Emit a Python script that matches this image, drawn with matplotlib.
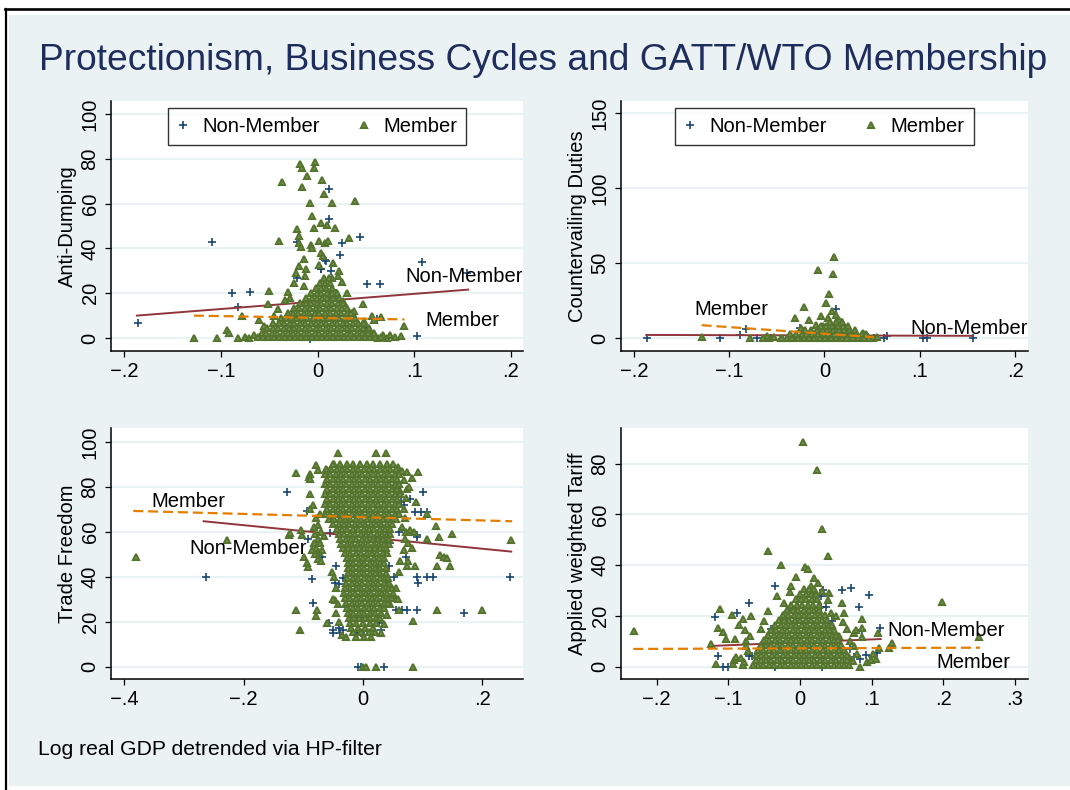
import matplotlib
matplotlib.use("Agg")
import numpy as np
import matplotlib.pyplot as plt
from matplotlib.lines import Line2D
from matplotlib.patches import Rectangle

plt.rcParams['font.family'] = ['Liberation Sans', 'DejaVu Sans']

NAVY = '#1a476f'
MAROON = '#90353b'
GREEN = '#55752f'
GREEN_FILL = '#779353'
ORANGE = '#e37e00'
BG = '#eaf2f3'

# ---------------- Anti-Dumping ----------------
ad_non_member = [
    (-0.186, 6.7), (-0.109, 43.0), (-0.089, 20.0), (-0.070, 20.7), (-0.082, 13.7),
    (-0.0215, 26.9), (-0.021, 42.8), (0.0123, 66.3), (0.0116, 53.3), (0.008, 34.8),
    (0.004, 30.6), (0.0137, 29.9), (0.023, 36.9), (0.0256, 42.2), (0.044, 44.9),
    (0.0515, 23.9), (0.065, 23.9), (0.108, 33.9), (0.103, 0.7), (0.155, 29.1),
    (0.050, 4.6), (0.062, 8.5), (0.013, 20.0), (0.0157, 18.0), (-0.0075, -0.5),
    (0.016, 21.5), (0.0035, 30.8), (0.009, 34.4), (-0.026, 5.0),
]
ad_member_extra = [
    (-0.128, 0.0), (-0.104, 0.0), (-0.0935, 3.4), (-0.092, 2.2), (-0.082, 0.0), (-0.0706, 0.0),
    (-0.078, 9.7), (-0.061, 8.2), (-0.0505, 21.0), (-0.051, 15.2), (-0.041, 13.1), (-0.0396, 43.3),
    (-0.0365, 69.7), (-0.0184, 77.6), (-0.0157, 75.7), (-0.016, 67.5), (-0.011, 72.4), (-0.0027, 78.7),
    (-0.0034, 75.7), (0.0048, 70.6), (0.007, 64.5), (0.0147, 60.4), (-0.0075, 60.4), (-0.006, 54.5),
    (-0.004, 49.3), (0.0034, 51.2), (0.0096, 50.4), (0.0177, 49.3), (-0.0215, 48.5), (-0.0195, 45.5),
    (-0.019, 42.5), (-0.0174, 40.6), (-0.0068, 41.5), (-0.006, 40.3), (0.0014, 43.3), (0.0075, 42.5),
    (0.011, 43.1), (0.039, 61.2), (0.033, 44.5), (-0.014, 35.1), (-0.0116, 30.6), (0.0038, 38.0),
    (0.006, 36.6), (0.002, 32.8), (0.0164, 33.6), (0.0218, 30.1), (0.015, 26.9), (0.0208, 27.6),
    (0.025, 25.0), (-0.0195, 32.0), (-0.022, 29.0), (-0.013, 27.5), (-0.024, 24.5), (-0.014, 23.0),
    (0.0468, 15.2), (0.056, 10.0), (0.058, 8.2), (0.0655, 9.3), (0.038, 11.9), (0.072, 0.0),
    (0.068, 1.3), (0.063, 0.0), (0.0863, 1.0), (0.0894, 5.2), (-0.031, 20.5), (-0.028, 18.0),
    (-0.034, 17.0), (-0.045, 10.0), (-0.055, 5.5), (-0.066, 1.5), (0.048, 7.5), (0.052, 3.5),
    (0.075, 1.5), (0.080, 0.3), (-0.075, 0.3), (0.030, 20.0), (0.026, 16.5),
]
ad_member_rows = [
    (0.3, [-0.062, -0.056, -0.051, -0.045, -0.040, -0.034, -0.028, -0.023, -0.017, -0.012, -0.006, -0.001,
           0.005, 0.010, 0.016, 0.021, 0.027, 0.032, 0.038, 0.043, 0.049, 0.054, 0.060, 0.066]),
    (2.4, [-0.058, -0.053, -0.047, -0.042, -0.036, -0.031, -0.025, -0.020, -0.014, -0.009, -0.003, 0.002,
           0.008, 0.013, 0.019, 0.024, 0.030, 0.035, 0.041, 0.046, 0.052, 0.058]),
    (4.6, [-0.052, -0.046, -0.041, -0.035, -0.030, -0.024, -0.019, -0.013, -0.008, -0.002, 0.003, 0.009,
           0.014, 0.020, 0.025, 0.031, 0.036, 0.042, 0.047, 0.053]),
    (6.8, [-0.046, -0.040, -0.035, -0.029, -0.024, -0.018, -0.013, -0.007, -0.002, 0.004, 0.009, 0.015,
           0.020, 0.026, 0.031, 0.037, 0.042, 0.048]),
    (9.0, [-0.038, -0.033, -0.027, -0.022, -0.016, -0.011, -0.005, 0.000, 0.006, 0.011, 0.017, 0.022,
           0.028, 0.033, 0.039]),
    (11.2, [-0.031, -0.025, -0.020, -0.014, -0.009, -0.003, 0.002, 0.008, 0.013, 0.019, 0.024, 0.030, 0.035]),
    (13.4, [-0.024, -0.019, -0.013, -0.008, -0.002, 0.003, 0.009, 0.014, 0.020, 0.025, 0.030]),
    (15.6, [-0.018, -0.012, -0.007, -0.001, 0.004, 0.010, 0.015, 0.021, 0.026]),
    (17.8, [-0.012, -0.006, -0.001, 0.005, 0.010, 0.016, 0.022]),
    (20.0, [-0.007, -0.001, 0.004, 0.010, 0.015, 0.020]),
    (22.2, [-0.002, 0.004, 0.009, 0.015]),
    (24.4, [0.003, 0.008, 0.013]),
    (26.6, [0.007, 0.012]),
]
ad_fit_non_member = ([-0.187, 0.156], [10.0, 21.6])
ad_fit_member = ([-0.128, 0.090], [10.0, 8.3])
ad_labels = [("Non-Member", 0.0905, 27.3), ("Member", 0.112, 7.8)]

# ---------------- Countervailing Duties ----------------
cvd_non_member = [
    (-0.1868, 0.0), (-0.1098, 0.0), (-0.0889, 2.2), (-0.0826, 6.0), (-0.0711, 0.0), (-0.0258, 6.5),
    (-0.021, 0.0), (0.0118, 19.4), (0.0105, 7.8), (0.027, 3.8), (0.046, 1.1), (0.0516, 0.0),
    (0.062, 0.0), (0.0655, 1.6), (0.1038, 0.0), (0.1073, 0.0), (0.156, 0.0), (-0.0564, 0.0),
    (-0.033, 0.0), (0.0045, 0.0), (0.013, 0.0),
]
cvd_member_extra = [
    (-0.1286, 1.1), (-0.078, 0.0), (-0.058, 0.0), (-0.053, 0.5), (-0.046, 0.0), (-0.0314, 13.8),
    (-0.0213, 21.0), (-0.016, 12.3), (-0.0073, 45.3), (0.0105, 54.2), (0.0094, 43.1), (0.0052, 29.2),
    (0.0017, 23.2), (-0.0035, 15.0), (0.0038, 13.2), (0.0077, 17.9), (0.0125, 15.4), (0.0153, 12.3),
    (0.0181, 10.5), (-0.009, 9.0), (-0.002, 8.0), (-0.025, 7.0), (0.040, 3.3), (0.0505, 0.0),
    (0.055, 0.8), (-0.060, 1.5), (-0.065, 0.0),
]
cvd_member_rows = [
    (0.3, [-0.045, -0.039, -0.034, -0.028, -0.022, -0.016, -0.011, -0.005, 0.001, 0.007, 0.012, 0.018,
           0.024, 0.030, 0.035, 0.041, 0.047]),
    (3.0, [-0.036, -0.030, -0.024, -0.019, -0.013, -0.007, -0.001, 0.004, 0.010, 0.016, 0.022, 0.027,
           0.033, 0.039, 0.044]),
    (5.7, [-0.020, -0.014, -0.008, -0.002, 0.003, 0.009, 0.015, 0.021, 0.026, 0.032]),
    (8.4, [-0.004, 0.002, 0.008, 0.014, 0.019, 0.025]),
    (11.0, [0.006, 0.012, 0.018]),
]
cvd_fit_non_member = ([-0.187, 0.156], [2.2, 1.6])
cvd_fit_member = ([-0.129, 0.052], [8.7, 0.7])
cvd_labels = [("Member", -0.1366, 19.0), ("Non-Member", 0.0906, 6.7)]

# ---------------- Trade Freedom ----------------
tf_non_member = [
    (-0.128, 77.9), (-0.094, 69.4), (-0.092, 56.8), (-0.263, 39.8), (-0.085, 39.0), (-0.083, 28.2),
    (0.246, 39.8), (0.1685, 24.0), (0.101, 77.6), (0.079, 74.6), (0.088, 69.0), (0.0967, 69.0),
    (0.1077, 69.0), (0.091, 58.6), (0.090, 57.6), (0.091, 39.8), (0.093, 37.0), (0.1077, 39.8),
    (0.1177, 39.8), (0.055, 25.0), (0.066, 25.0), (0.073, 25.0), (0.090, 25.0), (0.052, 78.2),
    (0.058, 77.2), (0.0635, 73.4), (0.069, 72.0), (0.072, 49.0), (0.052, 40.0), (0.041, 37.0),
    (0.044, 44.8), (-0.047, 37.0), (-0.040, 36.8), (-0.034, 39.3), (-0.057, 19.3), (-0.050, 16.3),
    (-0.041, 17.0), (-0.034, 16.3), (-0.050, 14.8), (-0.039, 14.8), (-0.011, 14.8), (-0.003, 14.8),
    (0.0276, 19.3), (0.030, 16.3), (-0.009, 0.0), (-0.003, 0.0), (0.035, 0.0), (-0.0055, 22.3),
    (0.003, 22.3), (-0.029, 26.7), (-0.058, 75.7), (-0.061, 71.2), (-0.0525, 65.3), (-0.055, 59.3),
    (-0.069, 49.0), (0.025, 43.0), (0.030, 41.0), (0.045, 55.0), (0.060, 60.0), (-0.045, 45.0),
    (-0.020, 21.0),
]
tf_member_extra = [
    (-0.381, 49.0), (-0.2276, 56.4), (-0.113, 86.0), (-0.0895, 85.8), (-0.091, 84.6), (-0.0895, 83.4),
    (-0.0785, 89.8), (-0.0746, 87.5), (-0.061, 87.5), (-0.048, 90.0), (-0.0414, 95.2), (0.022, 95.2),
    (0.0387, 95.2), (-0.088, 76.9), (-0.124, 58.6), (-0.1215, 59.3), (-0.104, 60.8), (-0.103, 58.6),
    (-0.098, 49.0), (-0.093, 46.0), (-0.092, 44.5), (-0.113, 25.0), (-0.105, 16.3), (-0.077, 25.0),
    (-0.079, 22.5), (-0.060, 19.3), (-0.047, 29.7), (0.0746, 86.4), (0.093, 86.4), (0.083, 83.8),
    (0.0746, 79.0), (0.0895, 73.4), (0.1077, 68.0), (0.123, 62.6), (0.150, 59.0), (0.127, 57.9),
    (0.1077, 56.7), (0.129, 49.7), (0.135, 49.0), (0.140, 48.5), (0.124, 44.8), (0.146, 44.8),
    (0.0746, 44.8), (0.088, 44.8), (0.124, 25.0), (0.200, 25.0), (0.2475, 56.4), (0.0845, 20.3),
    (0.000, 0.0), (0.0055, 0.0), (0.022, 0.0), (0.0845, 0.0),
    (-0.080, 59.0), (-0.076, 57.0), (-0.082, 55.0), (-0.078, 53.0), (-0.074, 51.0), (-0.080, 50.0),
    (-0.076, 48.0), (-0.070, 47.0), (-0.072, 55.0), (-0.068, 52.0), (-0.066, 58.0), (-0.070, 60.0),
    (-0.085, 52.0), (-0.088, 70.0), (-0.083, 72.0), (-0.078, 66.0), (-0.075, 63.0), (-0.072, 68.0),
    (-0.082, 62.0), (0.066, 62.0), (0.072, 60.0), (0.078, 61.0), (0.085, 60.0), (0.070, 57.0),
    (0.076, 55.0), (0.082, 53.0), (0.068, 52.0), (0.075, 47.0), (0.062, 47.0), (0.060, 42.0),
    (0.055, 35.0), (0.050, 32.0), (0.058, 30.0), (0.045, 28.0), (0.060, 25.0), (0.040, 23.0),
    (0.035, 19.0), (0.030, 15.0), (0.068, 70.0), (0.072, 75.0), (0.077, 80.0), (0.068, 83.0),
    (0.062, 78.0), (0.070, 66.0), (0.065, 87.0), (0.058, 89.0), (-0.045, 35.0), (-0.050, 30.0),
    (-0.042, 28.0), (-0.045, 24.0), (-0.040, 20.0), (-0.035, 14.0), (-0.028, 13.0), (-0.052, 42.0),
    (-0.048, 40.0),
]
tf_member_rows = [
    (90.0, [-0.050, -0.039, -0.027, -0.016, -0.005, 0.006, 0.017, 0.029, 0.040, 0.050]),
    (87.8, [-0.062, -0.053, -0.044, -0.035, -0.026, -0.017, -0.008, 0.001, 0.010, 0.019, 0.028, 0.037, 0.046, 0.056]),
    (85.6, [-0.064, -0.055, -0.046, -0.037, -0.028, -0.019, -0.010, -0.001, 0.008, 0.017, 0.026, 0.035, 0.044, 0.053, 0.060]),
    (83.4, [-0.060, -0.051, -0.042, -0.033, -0.024, -0.015, -0.006, 0.003, 0.012, 0.021, 0.030, 0.039, 0.048, 0.057]),
    (81.2, [-0.064, -0.055, -0.046, -0.037, -0.028, -0.019, -0.010, -0.001, 0.008, 0.017, 0.026, 0.035, 0.044, 0.053, 0.061]),
    (79.0, [-0.060, -0.051, -0.042, -0.033, -0.024, -0.015, -0.006, 0.003, 0.012, 0.021, 0.030, 0.039, 0.048, 0.057]),
    (76.8, [-0.064, -0.055, -0.046, -0.037, -0.028, -0.019, -0.010, -0.001, 0.008, 0.017, 0.026, 0.035, 0.044, 0.053, 0.062]),
    (74.6, [-0.060, -0.051, -0.042, -0.033, -0.024, -0.015, -0.006, 0.003, 0.012, 0.021, 0.030, 0.039, 0.048, 0.057]),
    (72.4, [-0.064, -0.055, -0.046, -0.037, -0.028, -0.019, -0.010, -0.001, 0.008, 0.017, 0.026, 0.035, 0.044, 0.053, 0.061]),
    (70.2, [-0.060, -0.051, -0.042, -0.033, -0.024, -0.015, -0.006, 0.003, 0.012, 0.021, 0.030, 0.039, 0.048, 0.057]),
    (68.0, [-0.064, -0.055, -0.046, -0.037, -0.028, -0.019, -0.010, -0.001, 0.008, 0.017, 0.026, 0.035, 0.044, 0.053, 0.060]),
    (65.8, [-0.057, -0.048, -0.039, -0.030, -0.021, -0.012, -0.003, 0.006, 0.015, 0.024, 0.033, 0.042, 0.051, 0.056]),
    (63.6, [-0.050, -0.041, -0.032, -0.023, -0.014, -0.005, 0.004, 0.013, 0.022, 0.031, 0.040, 0.049]),
    (61.4, [-0.044, -0.035, -0.026, -0.017, -0.008, 0.001, 0.010, 0.019, 0.028, 0.037, 0.046]),
    (59.2, [-0.040, -0.031, -0.022, -0.013, -0.004, 0.005, 0.014, 0.023, 0.032, 0.041, 0.046]),
    (57.0, [-0.038, -0.029, -0.020, -0.011, -0.002, 0.007, 0.016, 0.025, 0.034, 0.043]),
    (54.8, [-0.036, -0.027, -0.018, -0.009, 0.000, 0.009, 0.018, 0.027, 0.036, 0.043]),
    (52.6, [-0.034, -0.025, -0.016, -0.007, 0.002, 0.011, 0.020, 0.029, 0.038]),
    (50.4, [-0.030, -0.021, -0.012, -0.003, 0.006, 0.015, 0.024, 0.033, 0.040]),
    (48.2, [-0.027, -0.018, -0.009, 0.000, 0.009, 0.018, 0.027, 0.036]),
    (46.0, [-0.025, -0.016, -0.007, 0.002, 0.011, 0.020, 0.029, 0.036]),
    (43.8, [-0.025, -0.016, -0.007, 0.002, 0.011, 0.020, 0.029, 0.038]),
    (41.6, [-0.025, -0.016, -0.007, 0.002, 0.011, 0.020, 0.029, 0.038]),
    (39.4, [-0.026, -0.017, -0.008, 0.001, 0.010, 0.019, 0.028, 0.037, 0.042]),
    (37.2, [-0.028, -0.019, -0.010, -0.001, 0.008, 0.017, 0.026, 0.035, 0.044]),
    (35.0, [-0.030, -0.021, -0.012, -0.003, 0.006, 0.015, 0.024, 0.033, 0.042, 0.048]),
    (32.8, [-0.031, -0.022, -0.013, -0.004, 0.005, 0.014, 0.023, 0.032, 0.041, 0.050]),
    (30.6, [-0.030, -0.021, -0.012, -0.003, 0.006, 0.015, 0.024, 0.033, 0.042, 0.049]),
    (28.4, [-0.028, -0.019, -0.010, -0.001, 0.008, 0.017, 0.026, 0.035, 0.042]),
    (26.2, [-0.026, -0.017, -0.008, 0.001, 0.010, 0.019, 0.028, 0.036]),
    (24.0, [-0.025, -0.016, -0.007, 0.002, 0.011, 0.020, 0.030]),
    (21.8, [-0.024, -0.015, -0.006, 0.003, 0.012, 0.021, 0.028]),
    (19.6, [-0.022, -0.011, 0.000, 0.011, 0.022]),
    (17.4, [-0.020, -0.008, 0.004, 0.016]),
    (15.2, [-0.016, -0.004, 0.010, 0.020]),
    (13.0, [-0.012, 0.002, 0.014]),
]
tf_fit_non_member = ([-0.267, 0.2485], [64.7, 51.2])
tf_fit_member = ([-0.385, 0.250], [69.3, 64.7])
tf_labels = [("Member", -0.355, 73.4), ("Non-Member", -0.291, 52.7)]

# ---------------- Applied weighted Tariff ----------------
tar_non_member = [
    (-0.119, 19.7), (-0.115, 4.2), (-0.108, 0.0), (-0.0874, 21.3), (-0.071, 25.0), (-0.0716, 4.2),
    (-0.067, 4.2), (-0.0349, 32.0), (-0.0177, 21.7), (-0.021, 18.4), (0.0195, 28.7), (0.0288, 27.9),
    (0.0326, 30.3), (0.0288, 23.7), (0.059, 30.3), (0.0707, 30.9), (0.0963, 28.3), (0.0823, 23.4),
    (0.087, 14.5), (0.1116, 15.1), (0.101, 4.2), (0.107, 5.3), (-0.0116, 22.3), (0.036, 23.7),
    (-0.0525, 4.2), (0.075, 4.0), (0.083, 3.0), (0.092, 4.5), (-0.100, 0.0), (-0.035, 0.0),
    (0.030, 0.0), (0.060, 6.0), (0.070, 7.0), (-0.050, 8.0), (-0.040, 15.0), (0.045, 18.0),
]
tar_member_extra = [
    (-0.2316, 14.2), (0.0047, 88.6), (0.0233, 77.5), (0.031, 54.2), (0.0395, 43.7), (-0.044, 45.7),
    (-0.026, 39.9), (0.0065, 39.3), (0.011, 38.6), (-0.006, 35.3), (0.1986, 25.7), (0.250, 11.8),
    (-0.112, 22.6), (-0.115, 15.1), (-0.1247, 8.9), (-0.1167, 1.0), (-0.107, 13.8), (-0.1037, 10.8),
    (-0.0944, 20.4), (-0.0907, 10.9), (-0.085, 16.4), (-0.0795, 18.7), (-0.077, 14.5), (-0.068, 20.0),
    (-0.092, 2.6), (-0.093, 1.2), (-0.089, 4.0), (-0.080, 0.5), (-0.078, 2.0), (-0.083, 3.5),
    (-0.0316, 27.9), (-0.013, 31.8), (-0.014, 29.6), (0.015, 32.0), (0.040, 28.9), (0.039, 26.3),
    (0.0437, 21.0), (0.058, 25.3), (0.062, 21.3), (0.0595, 17.8), (0.075, 13.2), (0.0777, 14.5),
    (0.087, 18.7), (0.087, 15.1), (0.086, 11.8), (0.074, 2.4), (0.084, 0.0), (0.094, 2.0),
    (0.0986, 2.6), (0.109, 13.2), (0.110, 7.5), (0.124, 7.5), (0.128, 9.2), (0.102, 5.0),
    (0.106, 3.0), (-0.075, 10.0), (-0.070, 12.0), (-0.072, 6.0), (-0.076, 8.0), (0.070, 10.0),
    (0.075, 8.0), (0.080, 5.0), (0.065, 15.0), (0.068, 4.0), (-0.045, 22.0), (-0.050, 18.0),
    (-0.055, 15.0), (0.050, 20.0), (0.055, 12.0), (-0.022, 25.0), (0.030, 30.0), (0.025, 33.0),
    (0.020, 35.0),
]
tar_member_rows = [
    (0.5, [-0.066, -0.058, -0.051, -0.043, -0.036, -0.028, -0.021, -0.013, -0.006, 0.002, 0.009, 0.017,
           0.024, 0.032, 0.039, 0.047, 0.054, 0.062, 0.069]),
    (2.5, [-0.062, -0.055, -0.047, -0.040, -0.032, -0.025, -0.017, -0.010, -0.002, 0.005, 0.013, 0.020,
           0.028, 0.035, 0.043, 0.050, 0.058, 0.066]),
    (4.5, [-0.062, -0.054, -0.047, -0.039, -0.032, -0.024, -0.017, -0.009, -0.002, 0.006, 0.013, 0.021,
           0.028, 0.036, 0.043, 0.051, 0.058, 0.065]),
    (6.5, [-0.058, -0.051, -0.043, -0.036, -0.028, -0.021, -0.013, -0.006, 0.002, 0.009, 0.017, 0.024,
           0.032, 0.039, 0.047, 0.054, 0.061]),
    (8.5, [-0.055, -0.047, -0.040, -0.032, -0.025, -0.017, -0.010, -0.002, 0.005, 0.013, 0.020, 0.028,
           0.035, 0.043, 0.050, 0.057]),
    (10.5, [-0.050, -0.043, -0.035, -0.028, -0.020, -0.013, -0.005, 0.002, 0.010, 0.017, 0.025, 0.032,
            0.040, 0.047, 0.053]),
    (12.5, [-0.045, -0.037, -0.030, -0.022, -0.015, -0.007, 0.000, 0.008, 0.015, 0.023, 0.030, 0.038,
            0.045, 0.050]),
    (14.5, [-0.040, -0.033, -0.025, -0.018, -0.010, -0.003, 0.005, 0.012, 0.020, 0.027, 0.035, 0.042, 0.047]),
    (16.5, [-0.035, -0.027, -0.020, -0.012, -0.005, 0.003, 0.010, 0.018, 0.025, 0.033, 0.040, 0.044]),
    (18.5, [-0.030, -0.022, -0.015, -0.007, 0.000, 0.008, 0.015, 0.023, 0.030, 0.038]),
    (20.5, [-0.024, -0.017, -0.009, -0.002, 0.006, 0.013, 0.021, 0.028, 0.035]),
    (22.5, [-0.018, -0.010, -0.003, 0.005, 0.012, 0.020, 0.027]),
    (24.5, [-0.012, -0.004, 0.003, 0.011, 0.018, 0.026]),
    (26.5, [-0.006, 0.002, 0.009, 0.017, 0.024]),
    (28.5, [0.000, 0.008, 0.015, 0.022]),
    (30.5, [0.005, 0.012, 0.019]),
]
tar_fit_non_member = ([-0.1223, 0.1126], [8.2, 10.9])
tar_fit_member = ([-0.2326, 0.251], [7.0, 7.5])
tar_labels = [("Non-Member", 0.1219, 14.2), ("Member", 0.1907, 1.7)]

TITLE = "Protectionism, Business Cycles and GATT/WTO Membership"
NOTE = "Log real GDP detrended via HP-filter"

FS = 14.5
TRI = dict(ls='none', marker='^', ms=4.1, mew=1.5, mec=GREEN, mfc=GREEN_FILL)
CROSS = dict(ls='none', marker='+', ms=6.2, mew=1.2, color=NAVY)


def stata_label(v):
    s = f"{v:g}"
    neg = s.startswith('-')
    s = s.lstrip('-')
    if s.startswith('0.'):
        s = s[1:]
    return ('\u2212' if neg else '') + s


def member_xy(extra, rows):
    xs = [p[0] for p in extra]
    ys = [p[1] for p in extra]
    for y, row in rows:
        xs.extend(row)
        ys.extend([y] * len(row))
    return xs, ys


def panel(ax, non_member, extra, rows, fit_nm, fit_m, labels, ylabel, xticks, yticks, xlim, ylim, ylab_x,
          legend=False):
    ax.set_facecolor('white')
    nm = np.array(non_member)
    mx, my = member_xy(extra, rows)
    ax.plot(nm[:, 0], nm[:, 1], zorder=2, **CROSS)
    ax.plot(fit_nm[0], fit_nm[1], color=MAROON, lw=1.4, zorder=3)
    ax.plot(mx, my, zorder=4, **TRI)
    ax.plot(fit_m[0], fit_m[1], color=ORANGE, lw=1.6, ls=(0, (4.5, 2.2)), zorder=5)
    for txt, x, y in labels:
        ax.text(x, y, txt, fontsize=FS, ha='left', va='center', zorder=6)

    ax.set_xlim(xlim)
    ax.set_ylim(ylim)
    ax.set_xticks(xticks)
    ax.set_xticklabels([stata_label(v) for v in xticks])
    ax.set_yticks(yticks)
    ax.set_yticklabels([stata_label(v) for v in yticks], rotation=90, va='center')
    ax.tick_params(direction='out', length=4.2, width=0.9, labelsize=FS, color='black')
    ax.tick_params(axis='x', pad=3.5)
    ax.tick_params(axis='y', pad=4.0)
    ax.yaxis.grid(True, color=BG, lw=1.6)
    ax.set_axisbelow(True)
    for side in ('top', 'right'):
        ax.spines[side].set_visible(False)
    for side in ('left', 'bottom'):
        ax.spines[side].set_linewidth(1.1)
    ax.set_ylabel(ylabel, fontsize=FS)
    ax.yaxis.set_label_coords(ylab_x, 0.5)

    if legend:
        handles = [Line2D([], [], **CROSS), Line2D([], [], **TRI)]
        leg = ax.legend(handles, ['Non-Member', 'Member'], loc='upper center', bbox_to_anchor=(0.5, 0.972),
                        ncol=2, fontsize=FS, frameon=True, fancybox=False, edgecolor='black',
                        handlelength=0.6, handletextpad=0.66, columnspacing=1.9, borderpad=0.45,
                        borderaxespad=0.0)
        leg.get_frame().set_linewidth(1.0)
        leg.set_zorder(10)


fig = plt.figure(figsize=(10.7, 7.9), dpi=100, facecolor='white')
W, H = 1070.0, 790.0

fig.patches.append(Rectangle((9 / W, 4 / H), 1 - 9 / W, (786 - 15) / H, transform=fig.transFigure,
                             facecolor=BG, edgecolor='none', zorder=-5))
fig.add_artist(Line2D([5 / W, 1.0], [1 - 8.5 / H, 1 - 8.5 / H], color='black', lw=1.9, zorder=-4))
fig.add_artist(Line2D([6 / W, 6 / W], [0.0, 1 - 8.5 / H], color='black', lw=1.6, zorder=-4))

ax1 = fig.add_axes([111 / W, 1 - 351 / H, 412 / W, 250 / H])
ax2 = fig.add_axes([621 / W, 1 - 351 / H, 406.7 / W, 250 / H])
ax3 = fig.add_axes([111 / W, 1 - 679 / H, 412 / W, 251 / H])
ax4 = fig.add_axes([621 / W, 1 - 679 / H, 406.7 / W, 251 / H])

panel(ax1, ad_non_member, ad_member_extra, ad_member_rows, ad_fit_non_member, ad_fit_member, ad_labels,
      'Anti-Dumping', [-0.2, -0.1, 0, 0.1, 0.2], [0, 20, 40, 60, 80, 100],
      (-0.2138, 0.2127), (-5.8, 105.8), -0.083, legend=True)
panel(ax2, cvd_non_member, cvd_member_extra, cvd_member_rows, cvd_fit_non_member, cvd_fit_member, cvd_labels,
      'Countervailing Duties', [-0.2, -0.1, 0, 0.1, 0.2], [0, 50, 100, 150],
      (-0.2136, 0.2133), (-8.5, 158), -0.084, legend=True)
panel(ax3, tf_non_member, tf_member_extra, tf_member_rows, tf_fit_non_member, tf_fit_member, tf_labels,
      'Trade Freedom', [-0.4, -0.2, 0, 0.2], [0, 20, 40, 60, 80, 100],
      (-0.4223, 0.2682), (-5.5, 106.2), -0.083)
panel(ax4, tar_non_member, tar_member_extra, tar_member_rows, tar_fit_non_member, tar_fit_member, tar_labels,
      'Applied weighted Tariff', [-0.2, -0.1, 0, 0.1, 0.2, 0.3], [0, 20, 40, 60, 80],
      (-0.2498, 0.3177), (-4.85, 94.1), -0.084)

fig.text(543 / W, 1 - 70 / H, TITLE, ha='center', va='baseline', fontsize=26.7, color='#1f2d5c')
fig.text(38 / W, 1 - 755 / H, NOTE, ha='left', va='baseline', fontsize=15.2, color='black')

fig.savefig('out.png', dpi=100, facecolor=fig.get_facecolor())
